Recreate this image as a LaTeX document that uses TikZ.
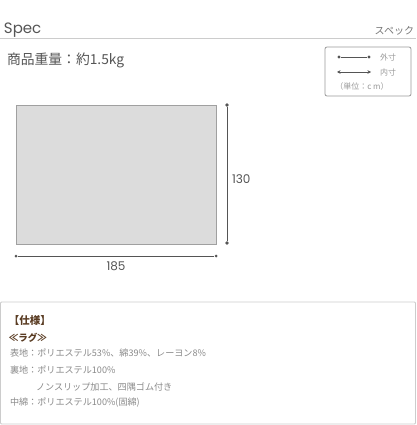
\documentclass[tikz,border=0pt]{standalone}
\usepackage{fontspec}
\setmainfont{Noto Sans CJK JP}
\newfontfamily\pop{Poppins}
\usetikzlibrary{arrows.meta}
\definecolor{txtgray}{HTML}{555555}
\definecolor{lightgray}{HTML}{999999}
\definecolor{rulegray}{HTML}{CCCCCC}
\definecolor{rugfill}{HTML}{DCDCDC}
\definecolor{rugedge}{HTML}{A0A0A0}
\definecolor{dimgray}{HTML}{555555}
\definecolor{brown}{HTML}{5A3C23}
\definecolor{spectxt}{HTML}{8A8A8A}
\tikzset{
  lbl/.style={inner sep=0pt, outer sep=0pt},
  dimline/.style={draw=dimgray, line width=0.9pt},
  dotend/.style={circle, fill=dimgray, inner sep=0pt, minimum size=3.6pt},
  legdot/.style={circle, fill=txtgray, inner sep=0pt, minimum size=3.4pt},
  specline/.style={lbl, anchor=west, text=spectxt, font=\fontsize{9.1}{11}\selectfont},
}
\begin{document}
\begin{tikzpicture}[x=1pt,y=-1pt]
\useasboundingbox[fill=white] (0,0) rectangle (416,425);
% header
\node[lbl, anchor=base west, text=txtgray, font=\pop\fontsize{15}{16}\selectfont] (spec) at (4,34) {Spec};
\node[lbl, anchor=base east, text=txtgray!80, font=\fontsize{10}{11}\selectfont] (specjp) at (414,35) {スペック};
\coordinate (hl) at (0,38.5);
\coordinate (hr) at (416,38.5);
\draw[rulegray, line width=0.8pt] (hl) -- (hr);
\node[lbl, anchor=base west, text=txtgray, font=\fontsize{13.8}{15}\selectfont] (weight) at (7,65) {商品重量：約1.5kg};
% legend
\node[draw=lightgray, line width=0.8pt, rounded corners=2pt, minimum width=86pt, minimum height=49pt, inner sep=0pt] (legend) at (368,71.5) {};
\node[legdot] (a1) at (339,57) {};
\node[legdot] (a2) at (369,57) {};
\draw[txtgray, line width=0.7pt] (a1) -- (a2);
\node[lbl, anchor=west, text=lightgray, font=\fontsize{8}{9}\selectfont] (outer) at (380,57) {外寸};
\coordinate (b1) at (337,72);
\coordinate (b2) at (371,72);
\draw[txtgray, line width=0.7pt, {Stealth[length=3.5pt,width=3.5pt]}-{Stealth[length=3.5pt,width=3.5pt]}] (b1) -- (b2);
\node[lbl, anchor=west, text=lightgray, font=\fontsize{8}{9}\selectfont] (inner) at (380,72) {内寸};
\node[lbl, text=lightgray, font=\fontsize{8}{9}\selectfont] (unit) at (362,86) {（単位：c m）};
% rug
\node[draw=rugedge, fill=rugfill, line width=0.9pt, minimum width=200pt, minimum height=139pt, inner sep=0pt] (rug) at (116,174.5) {};
% vertical dimension
\node[dotend] (v1) at (227,105) {};
\node[dotend] (v2) at (227,243) {};
\draw[dimline] (v1) -- (v2);
\node[lbl, anchor=west, text=txtgray, font=\pop\fontsize{12}{13}\selectfont] (h130) at (232,179) {130};
% horizontal dimension
\node[dotend, minimum size=3pt] (w1) at (16,256) {};
\node[dotend, minimum size=3pt] (w2) at (216,256) {};
\draw[dimline, line width=0.7pt] (w1) -- (w2);
\node[lbl, text=txtgray, font=\pop\fontsize{12}{13}\selectfont] (w185) at (116,266.5) {185};
% spec box
\node[draw=rulegray, line width=0.8pt, rounded corners=1pt, minimum width=415pt, minimum height=122pt, inner sep=0pt] (specbox) at (208,363) {};
\node[lbl, anchor=west, text=brown, font=\bfseries\fontsize{10.5}{12}\selectfont] (shiyo) at (9,321) {【仕様】};
\node[lbl, anchor=west, text=brown, font=\bfseries\fontsize{9.5}{11}\selectfont] (rug2) at (9,338) {≪ラグ≫};
\node[specline] (s1) at (10,353.5) {表地：ポリエステル53\%、綿39\%、レーヨン8\%};
\node[specline] (s2) at (10,370) {裏地：ポリエステル100\%};
\node[specline] (s3) at (36,386.5) {ノンスリップ加工、四隅ゴム付き};
\node[specline] (s4) at (10,403) {中綿：ポリエステル100\%(固綿)};
\end{tikzpicture}
\end{document}
